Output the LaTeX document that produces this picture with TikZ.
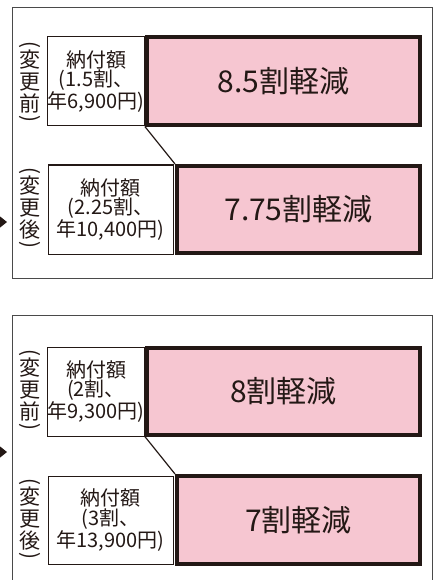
\documentclass[tikz,border=0pt]{standalone}
\usepackage{fontspec}
\setmainfont{Noto Sans CJK JP}
\definecolor{pinkfill}{HTML}{F6C6D1}
\definecolor{inkdark}{HTML}{231815}
\definecolor{framegray}{HTML}{4A4A4A}
\newcommand{\vlabel}[1]{\rotatebox{90}{)}\\[-3pt]#1\\[-11pt]\rotatebox{90}{(}}

\begin{document}
\begin{tikzpicture}[x=1pt,y=-1pt,
        paybox/.style={draw=inkdark,line width=1pt,fill=white,align=center,inner sep=0pt,
                text=inkdark,font=\fontsize{20}{19.5}\selectfont},
        cutbox/.style={draw=inkdark,line width=4pt,fill=pinkfill,inner sep=0pt,
                text=inkdark,font=\fontsize{30}{32}\selectfont},
        sidelabel/.style={align=center,inner sep=0pt,text=inkdark,font=\fontsize{21}{22}\selectfont}]
        \useasboundingbox (0,0) rectangle (438,580);

        % upper panel
        \draw[framegray,line width=0.8pt] (12,7) rectangle (432,278);
        \fill[inkdark] (-3,214) -- (7,222) -- (-3,230) -- cycle;
        \node[sidelabel] (before1) at (30,82) {\vlabel{変\\更\\前}};
        \node[sidelabel] (after1) at (30,208) {\vlabel{変\\更\\後}};
        \node[paybox,minimum width=96,minimum height=89] (pay1) at (96,81.5) {納付額\\(1.5割、\\年6,900円)};
        \node[cutbox,minimum width=273,minimum height=88] (cut1) at (283.5,81) {8.5割軽減};
        \node[paybox,minimum width=125,minimum height=89] (pay2) at (110.5,209.5) {納付額\\(2.25割、\\年10,400円)};
        \node[cutbox,minimum width=243,minimum height=87] (cut2) at (298.5,209.5) {7.75割軽減};
        \draw[inkdark,line width=1.2pt] (pay1.south east) -- (cut2.north west);

        % lower panel
        \draw[framegray,line width=0.8pt] (12,580) |- (432,315) -- (432,580);
        \fill[inkdark] (-3,444) -- (7,452) -- (-3,460) -- cycle;
        \node[sidelabel] (before2) at (30,390) {\vlabel{変\\更\\前}};
        \node[sidelabel] (after2) at (30,518.5) {\vlabel{変\\更\\後}};
        \node[paybox,minimum width=96,minimum height=89] (pay3) at (96,391.5) {納付額\\(2割、\\年9,300円)};
        \node[cutbox,minimum width=273,minimum height=87] (cut3) at (283.5,391.5) {8割軽減};
        \node[paybox,minimum width=125,minimum height=88] (pay4) at (110.5,520) {納付額\\(3割、\\年13,900円)};
        \node[cutbox,minimum width=243,minimum height=88] (cut4) at (298.5,520) {7割軽減};
        \draw[inkdark,line width=1.2pt] (pay3.south east) -- (cut4.north west);
\end{tikzpicture}
\end{document}
